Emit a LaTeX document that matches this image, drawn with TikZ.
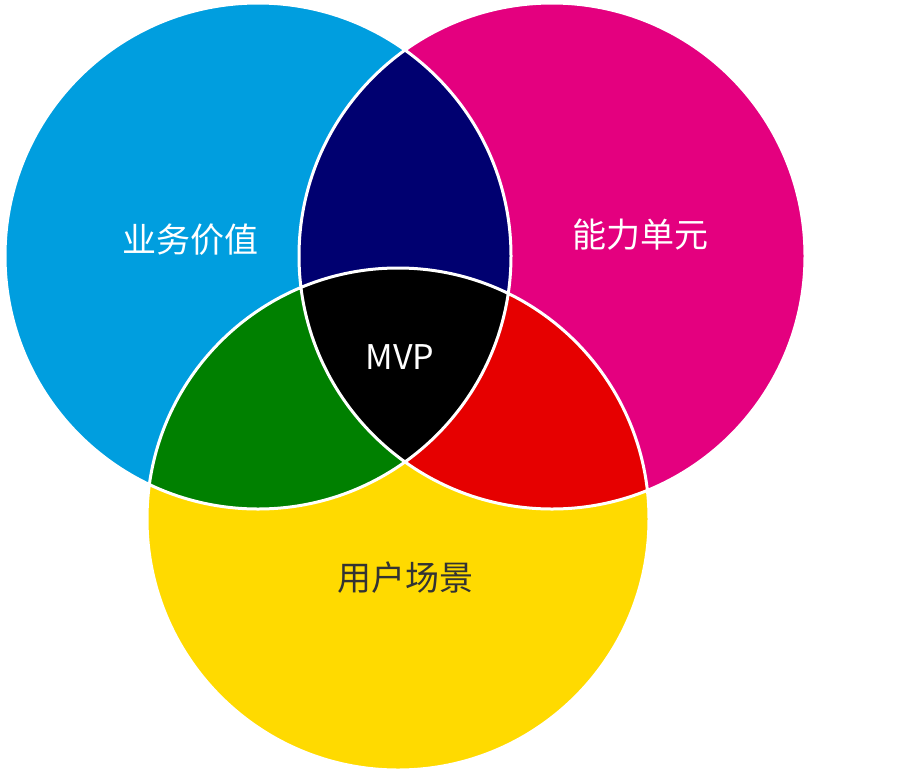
\documentclass[tikz,border=0pt]{standalone}
\usepackage{fontspec}
\setmainfont{Noto Sans CJK SC}
\definecolor{cblue}{HTML}{009EDF}
\definecolor{cmag}{HTML}{E4007F}
\definecolor{cyel}{HTML}{FFDA00}
\definecolor{cnavy}{HTML}{000070}
\definecolor{cgreen}{HTML}{008000}
\definecolor{cred}{HTML}{E60000}
\begin{document}
\begin{tikzpicture}[x=1pt,y=-1pt,
  lab/.style={font=\fontsize{34}{40}\selectfont, inner sep=0pt}]
\useasboundingbox (0,0) rectangle (900,772);
\def\cA{(258,256) circle[radius=253]}
\def\cB{(552,256) circle[radius=253]}
\def\cC{(398,519) circle[radius=251]}
\fill[cblue] \cA;
\fill[cmag] \cB;
\fill[cyel] \cC;
\begin{scope}\clip \cA; \fill[cnavy] \cB; \end{scope}
\begin{scope}\clip \cA; \fill[cgreen] \cC; \end{scope}
\begin{scope}\clip \cB; \fill[cred] \cC; \end{scope}
\begin{scope}\clip \cA; \clip \cB; \fill[black] \cC; \end{scope}
\draw[white, line width=3pt] \cA \cB \cC;
\node[lab, text=white] (a) at (190,240) {业务价值};
\node[lab, text=white] (b) at (640,235) {能力单元};
\node[lab, text=white] (m) at (400,357) {MVP};
\node[lab, text=black!80] (c) at (405,578) {用户场景};
\end{tikzpicture}
\end{document}
